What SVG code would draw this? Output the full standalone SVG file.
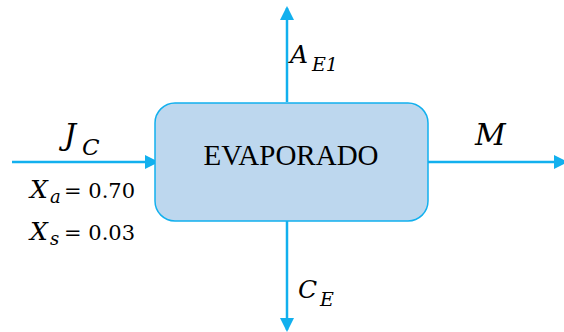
<svg xmlns="http://www.w3.org/2000/svg" width="564" height="332" viewBox="0 0 564 332">
<style>
.ln{stroke:#12B0EE;stroke-width:2.5;fill:none}
.m{font-family:"DejaVu Serif",serif;font-style:italic;fill:#000}
.n{font-family:"DejaVu Serif",serif;fill:#000}
.t{font-family:"Liberation Serif",serif;fill:#000}
</style>
<defs>
<marker id="ah2" markerWidth="14" markerHeight="14" refX="12" refY="7" orient="auto" markerUnits="userSpaceOnUse" viewBox="0 0 14 14">
<path d="M0,0 L14,7 L0,14 z" fill="#12B0EE"/>
</marker>
</defs>
<g id="connectors">
<line class="ln" x1="12" y1="162" x2="157" y2="162" marker-end="url(#ah2)"/>
<line class="ln" x1="287" y1="102" x2="287" y2="8" marker-end="url(#ah2)"/>
<line class="ln" x1="287" y1="221" x2="287" y2="330" marker-end="url(#ah2)"/>
<line class="ln" x1="428" y1="162" x2="566" y2="162" marker-end="url(#ah2)"/>
</g>
<g id="evaporado">
<rect x="155" y="103" width="273" height="118" rx="20" ry="20" fill="#BDD7EE" stroke="#12B0EE" stroke-width="1.5"/>
<text class="t" x="291" y="165" font-size="29" text-anchor="middle">EVAPORADO</text>
</g>
<g id="labels">
<text class="m" x="64" y="145" font-size="30">J</text>
<text class="m" x="82" y="155" font-size="23">C</text>
<text class="m" x="30" y="198" font-size="25">X</text>
<text class="m" x="50" y="203" font-size="18">a</text>
<text class="n" x="64" y="198" font-size="21">= 0.70</text>
<text class="m" x="30" y="240" font-size="25">X</text>
<text class="m" x="50" y="245" font-size="18">s</text>
<text class="n" x="64" y="240" font-size="21">= 0.03</text>
<text class="m" x="290" y="63" font-size="25">A</text>
<text class="m" x="312" y="71" font-size="19">E1</text>
<text class="m" x="298" y="298" font-size="25">C</text>
<text class="m" x="320" y="306" font-size="19">E</text>
<text class="m" x="475" y="145" font-size="30">M</text>
</g>
</svg>
